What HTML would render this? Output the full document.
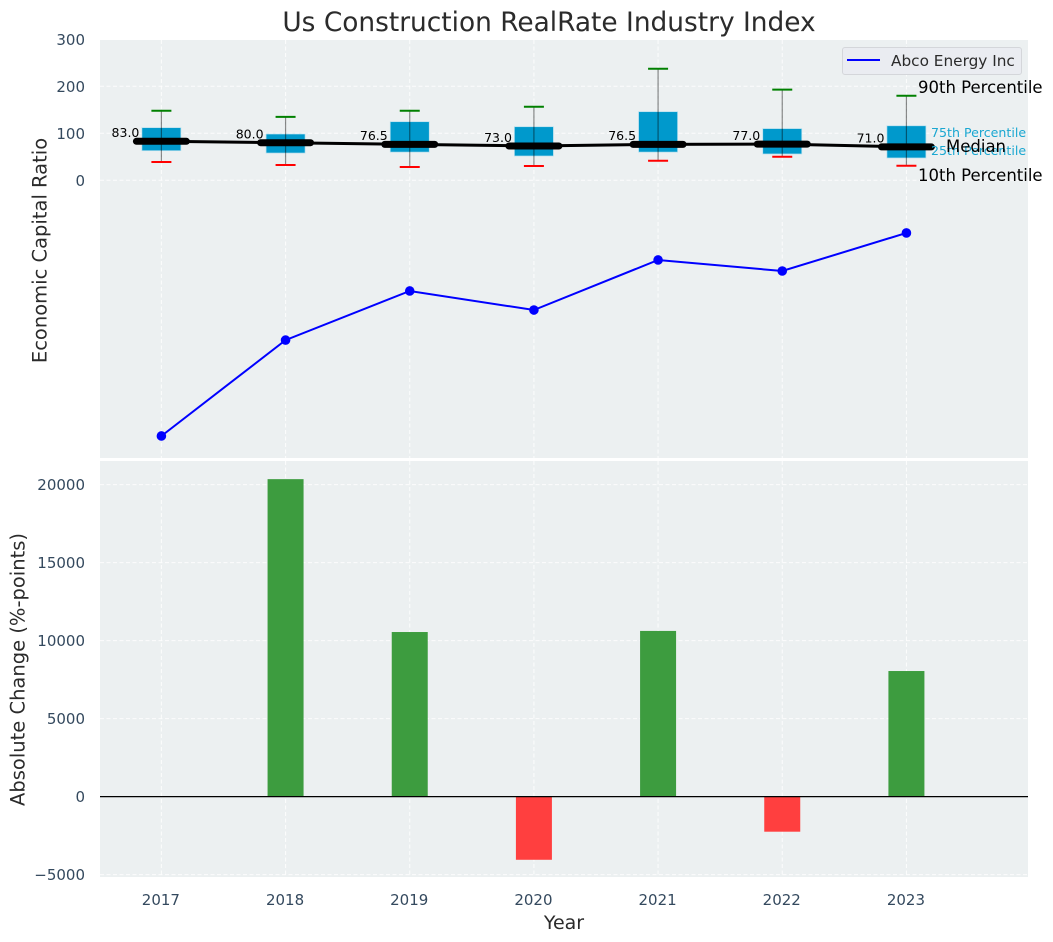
<!DOCTYPE html>
<html lang="en">
<head>
<meta charset="utf-8">
<title>Us Construction RealRate Industry Index</title>
<style>
html,body{margin:0;padding:0;background:#fff;width:1053px;height:942px;overflow:hidden}
svg{display:block;font-family:"DejaVu Sans","Liberation Sans",sans-serif}
</style>
</head>
<body>
<svg id="chart" xmlns="http://www.w3.org/2000/svg" width="1053" height="942" viewBox="0 0 1053 942">
  <rect x="100" y="40" width="928" height="418" fill="#ecf0f1"/>
  <rect x="100" y="461" width="928" height="416" fill="#ecf0f1"/>
  <text x="549" y="31" font-size="26.4" text-anchor="middle" fill="#2b2b2b">Us Construction RealRate Industry Index</text>
  <text transform="translate(46.5,250.5) rotate(-90)" font-size="19.5" text-anchor="middle" fill="#2b2b2b">Economic Capital Ratio</text>
  <text transform="translate(24.5,669.5) rotate(-90)" font-size="19.5" text-anchor="middle" fill="#2b2b2b">Absolute Change (%-points)</text>
  <text x="564" y="929" font-size="19" text-anchor="middle" fill="#2b2b2b">Year</text>
  <g id="grid"></g>
  <g id="bars"></g>
  <line x1="100" x2="1028" y1="796.6" y2="796.6" stroke="#000" stroke-width="1.3"/>
  <g id="boxes"></g>
  <g id="series"></g>
  <g id="labels"></g>
  <g id="axis-labels"></g>
  <g>
    <text x="918" y="93" font-size="16.5" fill="#000">90th Percentile</text>
    <text x="931" y="137" font-size="12.6" fill="#1aa7d1">75th Percentile</text>
    <text x="931" y="155" font-size="12.6" fill="#1aa7d1">25th Percentile</text>
    <text x="946" y="152" font-size="16.5" fill="#000">Median</text>
    <text x="918" y="181" font-size="16.5" fill="#000">10th Percentile</text>
  </g>
  <g>
    <rect x="842.5" y="47.5" width="179" height="27" rx="2.5" fill="#eaecf1" stroke="#d4d6da"/>
    <line x1="847" x2="880" y1="60" y2="60" stroke="#0000ff" stroke-width="2"/>
    <text x="891" y="66" font-size="15.3" fill="#2b2b2b">Abco Energy Inc</text>
  </g>
</svg>
<script>
const years = [2017, 2018, 2019, 2020, 2021, 2022, 2023];
const p90 = [148, 135, 148, 156.6, 237.4, 193, 180];
const p75 = [112, 98.5, 124.7, 114, 146, 110, 116];
const medians = [83.0, 80.0, 76.5, 73.0, 76.5, 77.0, 71.0];
const p25 = [63, 58, 60, 51.7, 60, 56, 47.5];
const p10 = [39, 32.5, 28.3, 30.4, 41.7, 50, 31];
const companyValues = [-544, -340, -235.5, -276, -169.5, -193, -112];
const changes = [0, 20350, 10550, -4050, 10620, -2250, 8050];
const topTicks = [0, 100, 200, 300];
const bottomTicks = [-5000, 0, 5000, 10000, 15000, 20000];

const NS = 'http://www.w3.org/2000/svg';
const xScale = v => 161.4 + (v - 2017) * 124.17;
const yTop = v => 180.3 - v * 0.47;
const yBottom = v => 796.6 - v * 0.0156;

function make(tag, attrs, parentId, text) {
  const node = document.createElementNS(NS, tag);
  for (const k in attrs) node.setAttribute(k, attrs[k]);
  if (text !== undefined) node.textContent = text;
  document.getElementById(parentId).appendChild(node);
  return node;
}

let el;
const gridStyle = {stroke: '#fff', 'stroke-width': 1, 'stroke-dasharray': '4 2.5', opacity: 0.85};
const tickText = {'font-size': 15, fill: '#34495e'};

years.forEach(function (yr) {
  const x = xScale(yr);
  el = make('line', Object.assign({x1: x, x2: x, y1: 40, y2: 458}, gridStyle), 'grid');
  
  
  el = make('line', Object.assign({x1: x, x2: x, y1: 461, y2: 877}, gridStyle), 'grid');
  
  
  el = make('text', Object.assign({x: x - 0.5, y: 905, 'text-anchor': 'middle'}, tickText), 'axis-labels', String(yr));
  
  
});

topTicks.forEach(function (t) {
  const y = yTop(t);
  el = make('line', Object.assign({x1: 100, x2: 1028, y1: y, y2: y}, gridStyle), 'grid');
  
  
  el = make('text', Object.assign({x: 85, y: y + 5.5, 'text-anchor': 'end'}, tickText), 'axis-labels', String(t));
  
  
});

bottomTicks.forEach(function (t) {
  const y = yBottom(t);
  el = make('line', Object.assign({x1: 100, x2: 1028, y1: y, y2: y}, gridStyle), 'grid');
  
  
  const label = t < 0 ? '\u2212' + Math.abs(t) : String(t);
  el = make('text', Object.assign({x: 85, y: y + 5.5, 'text-anchor': 'end'}, tickText), 'axis-labels', label);
  
  
});

years.forEach(function (yr, i) {
  const x = xScale(yr);
  const v = changes[i];
  const y0 = yBottom(0);
  const y1 = yBottom(v);
  el = make('rect', {x: x - 18, y: Math.min(y0, y1), width: 36, height: Math.abs(y1 - y0), fill: v >= 0 ? '#3d9c3f' : '#ff3f3f'}, 'bars');
  
  
});

years.forEach(function (yr, i) {
  const x = xScale(yr);
  const top75 = yTop(p75[i]);
  const bottom25 = yTop(p25[i]);
  el = make('rect', {x: x - 19.5, y: top75, width: 39, height: bottom25 - top75, fill: '#0099cc', stroke: '#b5dfee', 'stroke-width': 0.7}, 'boxes');
  
  
  el = make('line', {x1: x, x2: x, y1: yTop(p90[i]), y2: yTop(p10[i]), stroke: '#000', 'stroke-opacity': 0.45, 'stroke-width': 1.2}, 'boxes');
  
  
  el = make('line', {x1: x - 10, x2: x + 10, y1: yTop(p90[i]), y2: yTop(p90[i]), stroke: '#008000', 'stroke-width': 2}, 'boxes');
  
  
  el = make('line', {x1: x - 10, x2: x + 10, y1: yTop(p10[i]), y2: yTop(p10[i]), stroke: '#ff0000', 'stroke-width': 2}, 'boxes');
  
  
});

el = make('polyline', {points: years.map(function (yr, i) { return xScale(yr) + ',' + yTop(medians[i]); }).join(' '), fill: 'none', stroke: '#000', 'stroke-width': 3}, 'series');



years.forEach(function (yr, i) {
  const x = xScale(yr);
  const y = yTop(medians[i]);
  el = make('line', {x1: x - 25, x2: x + 25, y1: y, y2: y, stroke: '#000', 'stroke-width': 7, 'stroke-linecap': 'round'}, 'series');
  
  
  el = make('text', {x: x - 22, y: y - 4.2, 'font-size': 12.5, 'text-anchor': 'end', fill: '#000'}, 'labels', medians[i].toFixed(1));
  
  
});

el = make('polyline', {points: years.map(function (yr, i) { return xScale(yr) + ',' + yTop(companyValues[i]); }).join(' '), fill: 'none', stroke: '#0000ff', 'stroke-width': 2}, 'series');



years.forEach(function (yr, i) {
  el = make('circle', {cx: xScale(yr), cy: yTop(companyValues[i]), r: 4.8, fill: '#0000ff'}, 'series');
  
  
});
</script>
</body>
</html>
